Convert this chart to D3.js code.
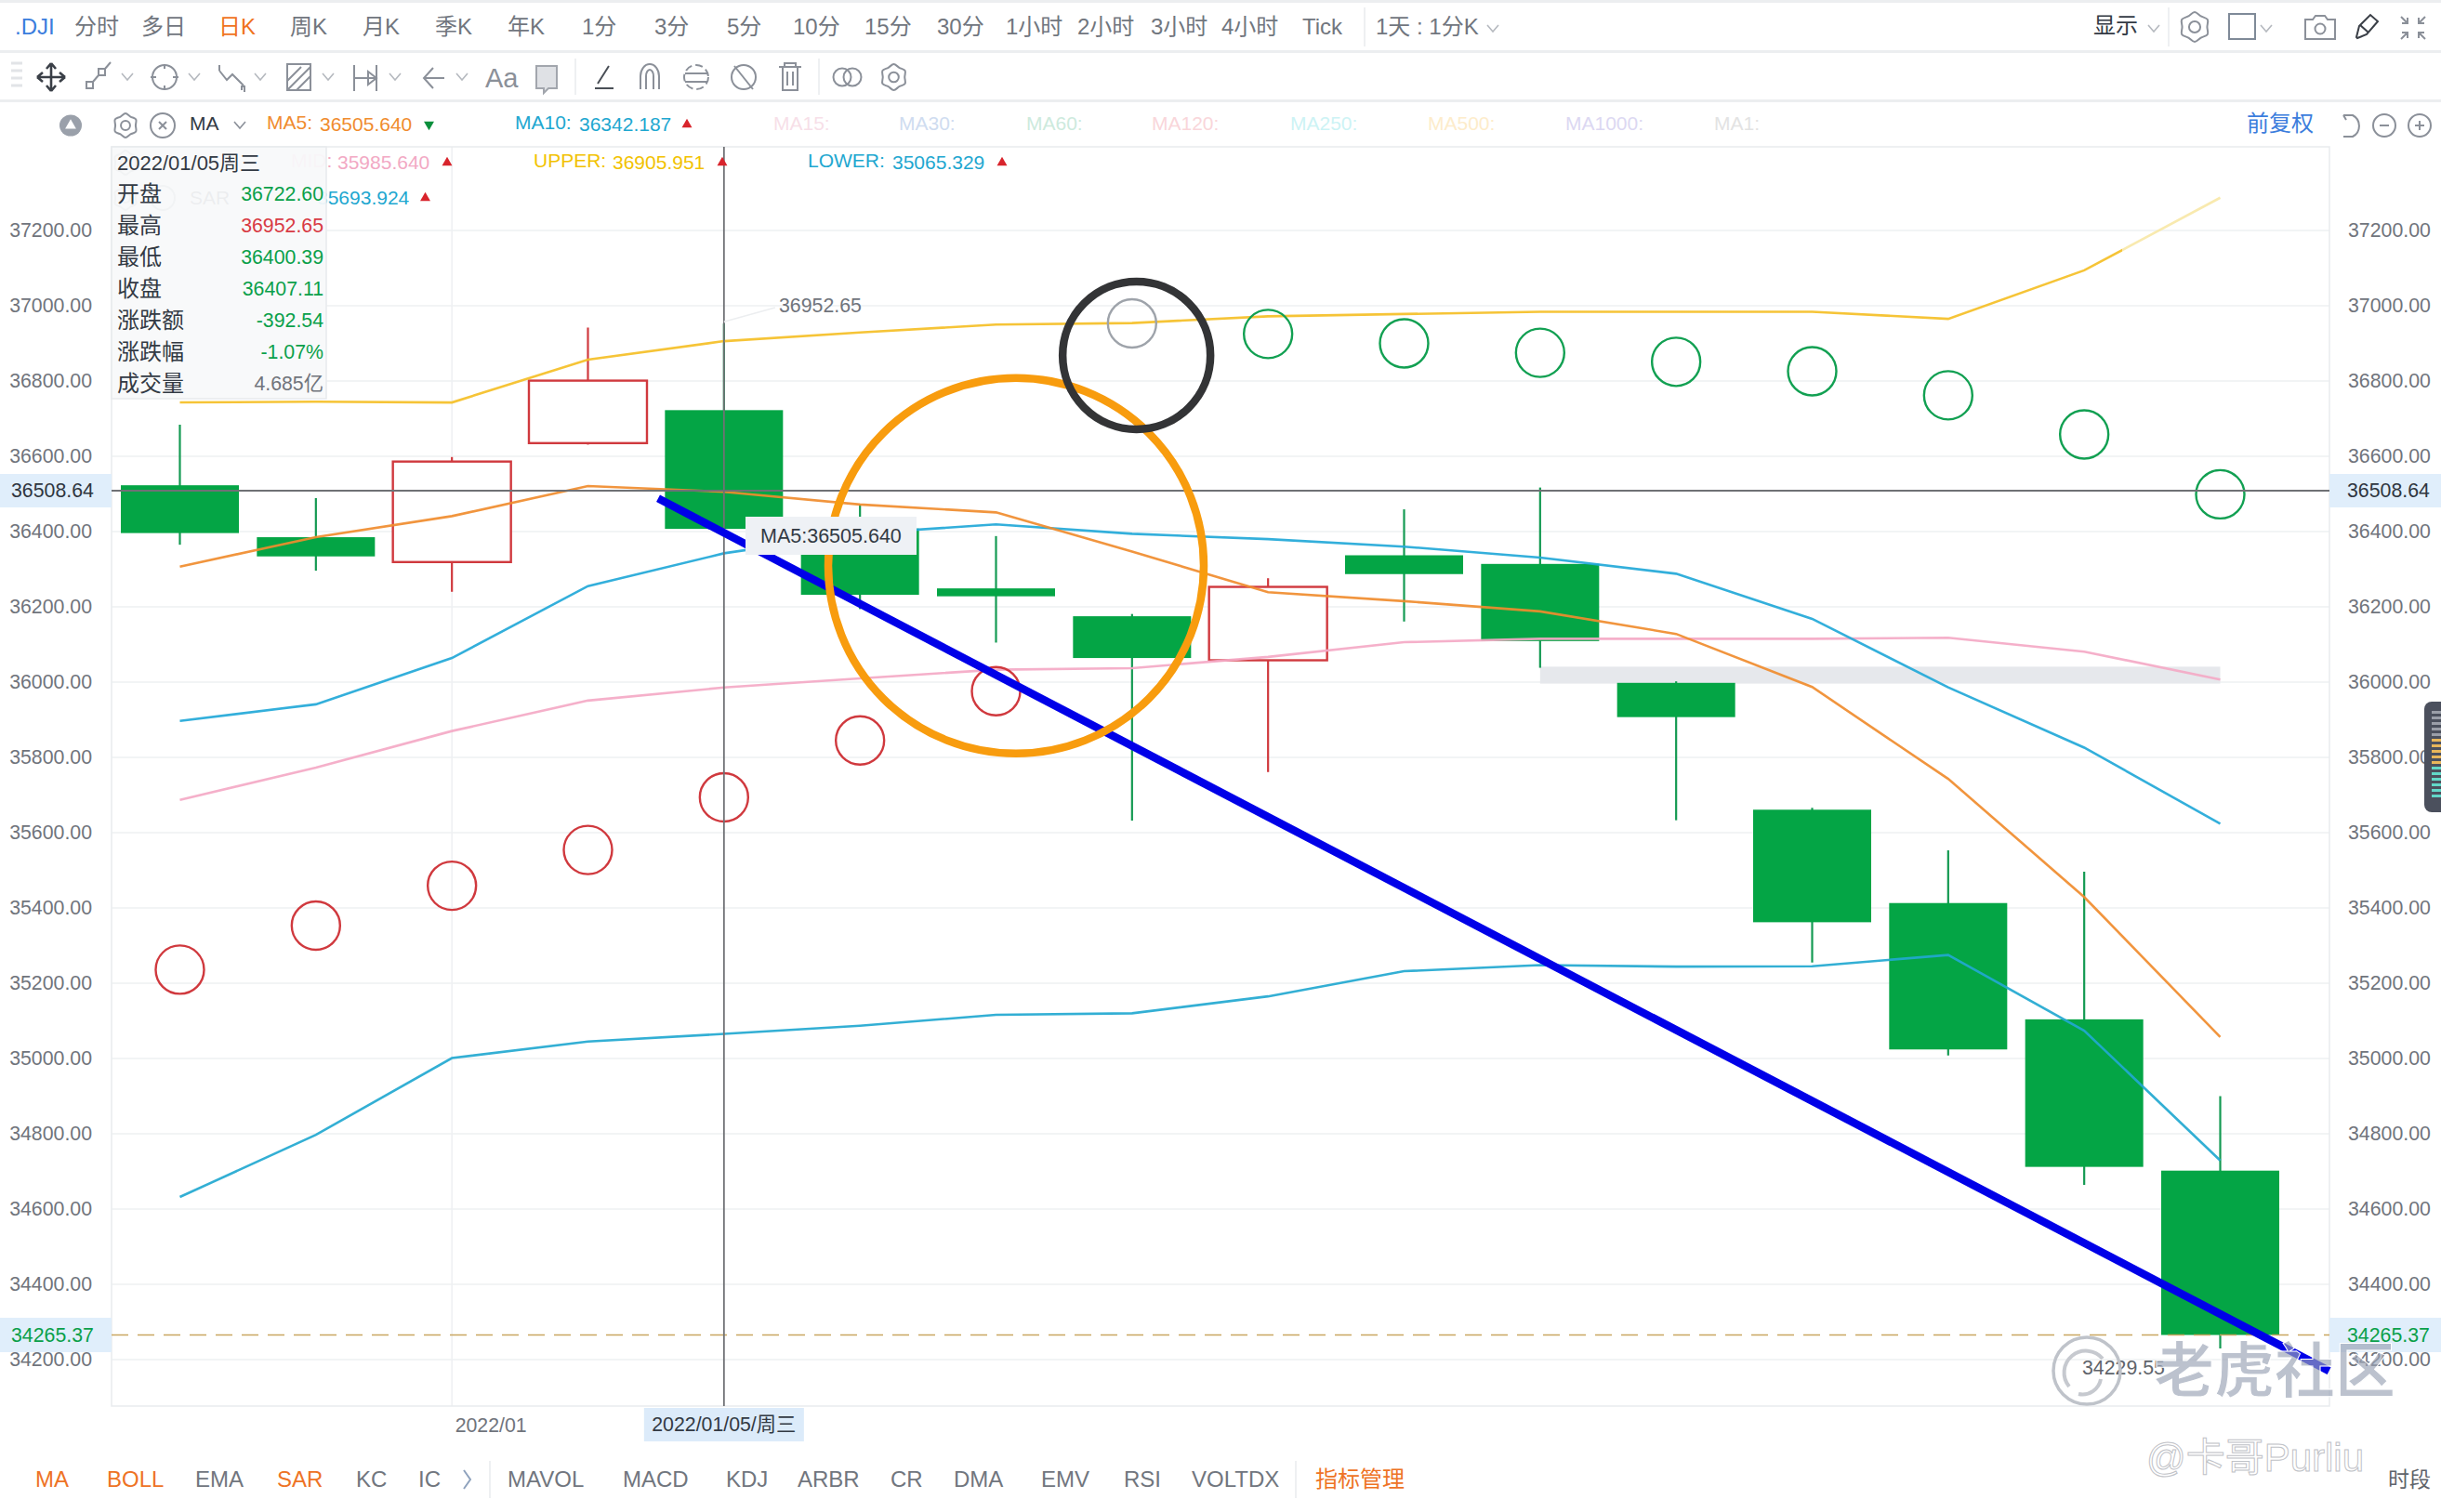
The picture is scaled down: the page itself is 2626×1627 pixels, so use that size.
<!DOCTYPE html>
<html lang="zh">

<head>
    <meta charset="UTF-8">
    <title>.DJI 日K</title>
    <script src="https://d3js.org/d3.v7.min.js"></script>
    <style>
        html, body { margin: 0; padding: 0; background: #fff; }
        svg { display: block; }
        text { font-family: "Liberation Sans", "Noto Sans CJK SC", sans-serif; }
    </style>
</head>

<body>
    <div id="chart"></div>

    <script>
        // candles
        const dates = ["2021/12/30", "2021/12/31", "2022/01/03", "2022/01/04", "2022/01/05", "2022/01/06", "2022/01/07", "2022/01/10",
            "2022/01/11", "2022/01/12", "2022/01/13", "2022/01/14", "2022/01/18", "2022/01/19", "2022/01/20", "2022/01/21"];
        const opens = [36523, 36385, 36319, 36635, 36722.60, 36408, 36249, 36175, 36058, 36337, 36314, 35998, 35661, 35413, 35104, 34702];
        const highs = [36684, 36489, 36598, 36942, 36952.65, 36472, 36388, 36181, 36276, 36459, 36517, 36002, 35666, 35553, 35496, 34900];
        const lows = [36365, 36296, 36240, 36631, 36400.39, 36194, 36105, 35632, 35761, 36161, 36038, 35633, 35255, 35008, 34664, 34229.55];
        const closes = [36396, 36334, 36586, 36801, 36407.11, 36232, 36228, 36064, 36253, 36287, 36109, 35907, 35362, 35024, 34712, 34265.37];

        // indicator lines
        const ma5 = [36307, 36385, 36441, 36521, 36505.64, 36472, 36451, 36347, 36239, 36215, 36188, 36128, 35987, 35743, 35429, 35057];
        const ma10 = [35897, 35941, 36064, 36255, 36342.19, 36395, 36419, 36394, 36380, 36360, 36331, 36288, 36168, 35986, 35826, 35624];
        const bollMid = [35687, 35773, 35870, 35951, 35985.64, 36010, 36033, 36037, 36067, 36106, 36115, 36115, 36115, 36118, 36081, 36007];
        const bollUpper = [36743, 36745, 36743, 36857, 36905.95, 36929, 36950, 36954, 36972, 36978, 36984, 36984, 36984, 36965, 37094, 37287];
        const bollLower = [34632, 34797, 35001, 35045, 35065.33, 35087, 35116, 35120, 35165, 35232, 35248, 35244, 35245, 35275, 35074, 34729];
        const sar = [35236, 35353, 35459, 35554, 35693.92, 35845, 35976, 36953, 36925, 36900, 36875, 36851, 36826, 36762, 36658, 36499];
        const sarState = ["up", "up", "up", "up", "up", "up", "up", "flip", "down", "down", "down", "down", "down", "down", "down", "down"];

        const priceTicks = d3.range(34200, 37201, 200);
        const lastPrice = 34265.37;
        const crossPrice = 36508.64;
        const crossIndex = 4;

        // hand drawn things on the picture, in candle index / price
        const blueLine = [[3.516, 36488], [15.80, 34170]];
        const orangeCircle = [6.147, 36309];
        const blackCircle = [7.033, 36868];
        const greyBand = { from: 10, to: 15, low: 35996, high: 36041 };

        const periodTabs = [".DJI", "分时", "多日", "日K", "周K", "月K", "季K", "年K", "1分", "3分", "5分", "10分", "15分", "30分", "1小时", "2小时", "3小时", "4小时", "Tick"];
        const periodX = [16, 80, 152, 235, 312, 390, 468, 546, 626, 704, 782, 853, 930, 1008, 1082, 1159, 1238, 1314, 1401];
        const indicatorTabs = ["MA", "BOLL", "EMA", "SAR", "KC", "IC", "MAVOL", "MACD", "KDJ", "ARBR", "CR", "DMA", "EMV", "RSI", "VOLTDX", "指标管理"];
        const indicatorX = [38, 115, 210, 298, 383, 450, 546, 670, 781, 858, 958, 1026, 1120, 1209, 1282, 1415];
        const activeTabs = ["MA", "BOLL", "SAR", "指标管理"];
        const offLegend = ["MA15:", "MA30:", "MA60:", "MA120:", "MA250:", "MA500:", "MA1000:", "MA1:"];
        const offLegendX = [832, 967, 1104, 1239, 1388, 1536, 1684, 1844];
        const offLegendColor = ["#f7dfe8", "#cfdcf0", "#cdeadd", "#f9d6da", "#cdf3f5", "#fdeccb", "#dcd8f2", "#e3e3e3"];
        const infoLabels = ["开盘", "最高", "最低", "收盘", "涨跌额", "涨跌幅", "成交量"];
        const infoValues = ["36722.60", "36952.65", "36400.39", "36407.11", "-392.54", "-1.07%", "4.685亿"];
        const infoColors = ["#0aa04a", "#d83a44", "#0aa04a", "#0aa04a", "#0aa04a", "#0aa04a", "#70747c"];

        const width = 2626, height = 1627;
        const plot = { left: 120, right: 2506, top: 158, bottom: 1513 };
        const green = "#04a545", greenWick = "#149a52", red = "#d0393e";
        const grey = "#70747c", iconGrey = "#8b9099", gridColor = "#eef0f2";

        const svg = d3.select("#chart").append("svg").attr("width", width).attr("height", height);

        const x = d3.scaleLinear().domain([0, 15]).range([193.5, 2388.5]);
        const y = d3.scaleLinear().domain([34076.5, 37422.2]).range([plot.bottom, plot.top]);

        function label(g, px, py, str, color, size, anchor) {
            return g.append("text").attr("x", px).attr("y", py).attr("dy", "0.35em")
                .attr("fill", color).attr("font-size", size || 21.3).attr("text-anchor", anchor || "start").text(str);
        }

        // ---- grid
        const grid = svg.append("g");
        grid.selectAll("line").data(priceTicks).join("line")
            .attr("x1", plot.left).attr("x2", plot.right)
            .attr("y1", d => y(d)).attr("y2", d => y(d))
            .attr("stroke", gridColor).attr("stroke-width", 1.5);
        grid.append("line").attr("x1", x(2)).attr("x2", x(2)).attr("y1", plot.top).attr("y2", plot.bottom).attr("stroke", gridColor).attr("stroke-width", 1.5);
        grid.append("rect").attr("x", plot.left).attr("y", plot.top).attr("width", plot.right - plot.left).attr("height", plot.bottom - plot.top)
            .attr("fill", "none").attr("stroke", "#e9ebee").attr("stroke-width", 1.5);

        // ---- price tags go under the axis text, the reference has 34200.00 on top of the tag
        const tagFill = "#e0eefb";
        [[0, 12], [plot.right, plot.right + 19]].forEach(([tx, lx]) => {
            svg.append("rect").attr("x", tx).attr("y", y(crossPrice) - 18).attr("width", 120).attr("height", 36).attr("fill", tagFill);
            label(svg, lx, y(crossPrice), "36508.64", "#2f3640");
            svg.append("rect").attr("x", tx).attr("y", y(lastPrice) - 18.5).attr("width", 120).attr("height", 37).attr("fill", tagFill);
            label(svg, lx, y(lastPrice), "34265.37", "#0aa04a");
        });

        // ---- axes
        const fmt = d3.format(".2f");
        const leftAxis = svg.append("g").attr("transform", `translate(${plot.left},0)`)
            .call(d3.axisLeft(y).tickValues(priceTicks).tickFormat(fmt).tickSize(0).tickPadding(21));
        const rightAxis = svg.append("g").attr("transform", `translate(${plot.right},0)`)
            .call(d3.axisRight(y).tickValues(priceTicks).tickFormat(fmt).tickSize(0).tickPadding(20));
        const bottomAxis = svg.append("g").attr("transform", `translate(0,${plot.bottom})`)
            .call(d3.axisBottom(x).tickValues([2]).tickFormat(() => "2022/01").tickSize(0).tickPadding(13));
        bottomAxis.selectAll("text").attr("text-anchor", "start").attr("dx", 3);
        [leftAxis, rightAxis, bottomAxis].forEach(a => {
            a.select(".domain").remove();
            a.selectAll("text").attr("fill", grey).attr("font-size", 21.3)
                .attr("font-family", '"Liberation Sans", "Noto Sans CJK SC", sans-serif');
        });

        // grey band
        svg.append("rect").attr("x", x(greyBand.from)).attr("width", x(greyBand.to) - x(greyBand.from))
            .attr("y", y(greyBand.high)).attr("height", y(greyBand.low) - y(greyBand.high)).attr("fill", "#e6e8ec");

        // ---- candles
        const bodyW = 127;
        const isUp = i => closes[i] > opens[i];
        const candles = svg.append("g").selectAll("g").data(dates).join("g");
        candles.append("line")
            .attr("x1", (d, i) => x(i)).attr("x2", (d, i) => x(i))
            .attr("y1", (d, i) => y(highs[i])).attr("y2", (d, i) => y(lows[i]))
            .attr("stroke", (d, i) => isUp(i) ? red : greenWick).attr("stroke-width", 2.2);
        // red candles are hollow, the wick stops at the box
        candles.append("rect")
            .attr("x", (d, i) => x(i) - bodyW / 2)
            .attr("width", bodyW)
            .attr("y", (d, i) => y(Math.max(opens[i], closes[i])))
            .attr("height", (d, i) => Math.abs(y(opens[i]) - y(closes[i])))
            .attr("fill", (d, i) => isUp(i) ? "#fff" : green)
            .attr("stroke", (d, i) => isUp(i) ? red : "none")
            .attr("stroke-width", 2.4);

        svg.append("line").attr("x1", plot.left).attr("x2", plot.right).attr("y1", y(lastPrice)).attr("y2", y(lastPrice))
            .attr("stroke", "#c9a660").attr("stroke-width", 1.7).attr("stroke-dasharray", "18 10");

        // ---- lines
        const defs = svg.append("defs");
        const fade = defs.append("linearGradient").attr("id", "upperFade").attr("gradientUnits", "userSpaceOnUse")
            .attr("x1", 0).attr("x2", width).attr("y1", 0).attr("y2", 0);
        fade.append("stop").attr("offset", 2283 / width).attr("stop-color", "#f5bf26");
        fade.append("stop").attr("offset", 2283 / width).attr("stop-color", "#f8e8a8");

        const line = d3.line().x((d, i) => x(i)).y(d => y(d));
        [[bollMid, "#f4a9c5"], [bollLower, "#22a8d0"], [ma10, "#22a8d8"], [ma5, "#f08c2e"], [bollUpper, "url(#upperFade)"]].forEach(([vals, col]) => {
            svg.append("path").attr("d", line(vals)).attr("fill", "none").attr("stroke", col)
                .attr("stroke-width", 2.6).attr("stroke-opacity", 0.92);
        });

        // sar circles
        const sarColor = { up: red, down: "#12a052", flip: "#9ea3aa" };
        svg.append("g").selectAll("circle").data(sar).join("circle")
            .attr("cx", (d, i) => x(i)).attr("cy", d => y(d)).attr("r", 26)
            .attr("fill", "none").attr("stroke", (d, i) => sarColor[sarState[i]]).attr("stroke-width", 2.4);

        // crosshair
        svg.append("line").attr("x1", plot.left).attr("x2", plot.right).attr("y1", y(crossPrice)).attr("y2", y(crossPrice))
            .attr("stroke", "#6f7175").attr("stroke-width", 1.8);
        svg.append("line").attr("x1", x(crossIndex)).attr("x2", x(crossIndex)).attr("y1", plot.top).attr("y2", plot.bottom)
            .attr("stroke", "#6f7175").attr("stroke-width", 1.8);

        // ---- high / low labels
        svg.append("line").attr("x1", x(crossIndex)).attr("y1", y(highs[crossIndex]) - 2).attr("x2", x(crossIndex) + 55).attr("y2", y(37000) + 2)
            .attr("stroke", "#eceef0").attr("stroke-width", 1.5);
        label(svg, 838, y(37000), "36952.65", grey);

        // ---- annotations
        svg.append("line")
            .attr("x1", x(blueLine[0][0])).attr("y1", y(blueLine[0][1]))
            .attr("x2", x(blueLine[1][0])).attr("y2", y(blueLine[1][1]))
            .attr("stroke", "#0000e8").attr("stroke-width", 8.5);
        svg.append("circle").attr("cx", x(orangeCircle[0])).attr("cy", y(orangeCircle[1])).attr("r", 202)
            .attr("fill", "none").attr("stroke", "#f89c0e").attr("stroke-width", 8.5);
        svg.append("circle").attr("cx", x(blackCircle[0])).attr("cy", y(blackCircle[1])).attr("r", 79.5)
            .attr("fill", "none").attr("stroke", "#333436").attr("stroke-width", 8.5);

        label(svg, 2240, 1472, "34229.55", "#5f646b");

        // MA5 tooltip
        svg.append("rect").attr("x", 802).attr("y", 556).attr("width", 184).attr("height", 41).attr("fill", "#eef1f5");
        label(svg, 818, 576, "MA5:36505.640", "#333a44", 21.5);

        // date tag
        svg.append("rect").attr("x", x(crossIndex) - 86).attr("y", 1515).attr("width", 172).attr("height", 36).attr("fill", "#dcebfa");
        label(svg, x(crossIndex), 1533, dates[crossIndex] + "/周三", "#333a44", 21.3, "middle");

        // ---- header rows
        const chrome = svg.append("g");
        [[0, 3], [54, 3], [107, 3]].forEach(([py, h]) => chrome.append("rect").attr("x", 0).attr("y", py).attr("width", width).attr("height", h).attr("fill", "#eceef0"));
        [[1468, 8, 50], [2333, 8, 50], [619, 63, 102], [881, 63, 102], [527, 1572, 1612], [1394, 1572, 1612]].forEach(([sx, a, b]) =>
            chrome.append("line").attr("x1", sx).attr("x2", sx).attr("y1", a).attr("y2", b).attr("stroke", "#e9ebee").attr("stroke-width", 1.5));

        periodTabs.forEach((t, i) => {
            const c = t === ".DJI" ? "#3b7ddd" : t === "日K" ? "#f0731e" : "#71767e";
            label(chrome, periodX[i], 29, t, c, 24);
        });
        label(chrome, 1480, 29, "1天 : 1分K", "#71767e", 24);
        label(chrome, 2252, 28, "显示", "#333a44", 24);

        indicatorTabs.forEach((t, i) => {
            label(chrome, indicatorX[i], 1592, t, activeTabs.includes(t) ? "#ee7325" : "#71767e", 24);
        });
        label(chrome, 2569, 1592, "时段", "#5f646b", 23);

        // ---- icons
        function chevron(cx, cy, col) {
            chrome.append("path").attr("d", `M${cx - 6},${cy - 3}L${cx},${cy + 4}L${cx + 6},${cy - 3}`)
                .attr("fill", "none").attr("stroke", col || "#b5b9bf").attr("stroke-width", 1.6);
        }
        function gear(cx, cy, r, col) {
            const pts = d3.range(12).map(i => {
                const a = i * Math.PI / 6, rr = i % 2 ? r * 0.84 : r;
                return [cx + rr * Math.sin(a), cy - rr * Math.cos(a)];
            });
            chrome.append("path").attr("d", d3.line().curve(d3.curveCardinalClosed)(pts)).attr("fill", "none").attr("stroke", col || iconGrey).attr("stroke-width", 2);
            chrome.append("circle").attr("cx", cx).attr("cy", cy).attr("r", r * 0.38).attr("fill", "none").attr("stroke", col || iconGrey).attr("stroke-width", 2);
        }
        function ring(cx, cy, r, col) {
            return chrome.append("circle").attr("cx", cx).attr("cy", cy).attr("r", r).attr("fill", "none").attr("stroke", col || iconGrey).attr("stroke-width", 2);
        }
        function stroke(d, col, w) {
            return chrome.append("path").attr("d", d).attr("fill", "none").attr("stroke", col || iconGrey).attr("stroke-width", w || 2);
        }
        function tri(cx, cy, col, down) {
            chrome.append("path").attr("d", d3.symbol(d3.symbolTriangle, 52)()).attr("fill", col)
                .attr("transform", `translate(${cx},${cy})` + (down ? " rotate(180)" : ""));
        }

        [137, 209, 280, 353, 425, 497].forEach(cx => chevron(cx, 82));
        chevron(1606, 30); chevron(2317, 30); chevron(2438, 30); chevron(258, 134, "#8b9099");
        stroke("M499,1582l7,10l-7,10", "#8fa2bd", 2);

        // row 2 tools
        stroke("M12,68h12M12,76h12M12,84h12M12,92h12", "#e2e4e7", 3);
        stroke("M55,68V98M40,83H70M55,68l-5,6M55,68l5,6M55,98l-5,-6M55,98l5,-6M40,83l6,-5M40,83l6,5M70,83l-6,-5M70,83l-6,5", "#3a3f47", 2.6);
        stroke("M93,95h7v-7h-7zM106,81h7v-7h-7zM100,88L106,81M113,74l6,-7");
        ring(177, 83, 13); stroke("M162,83h6M186,83h6M177,69v5M177,92v5");
        stroke("M236,70v6M236,76l8,10l6,-6l12,12M260,97v-4h3v6");
        stroke("M309,69h25v28h-25zM309,97L334,72M309,87L324,72M319,97L334,82");
        stroke("M381,70V98M405,70V98M381,84H405M405,84l-9,-7v14z");
        stroke("M478,84H456M466,73L456,84L466,95");
        label(chrome, 522, 84, "Aa", iconGrey, 29);
        chrome.append("path").attr("d", "M577,71h22v24h-9l-5,5v-5h-8z").attr("fill", "#dfe1e5").attr("stroke", "#a2a6ad").attr("stroke-width", 2);
        stroke("M640,95h20M643,90L655,71", "#4a4f57");
        stroke("M689,96V82a10,13 0 0 1 20,0V96M695,96V82a4,7 0 0 1 8,0V96");
        ring(749, 83, 13).attr("stroke-dasharray", "8 4"); stroke("M737,79h24M737,88h24");
        ring(800, 83, 13); stroke("M790,71L810,96");
        stroke("M838,72h24M844,72v-4h12v4M842,72v25h16V72M847,77v15M853,77v15");
        ring(906, 83, 9.5); ring(917, 83, 9.5);
        gear(961.5, 83, 14);

        // right of the top row
        gear(2361, 29, 16);
        chrome.append("rect").attr("x", 2398).attr("y", 15).attr("width", 28).attr("height", 27).attr("fill", "none").attr("stroke", "#7f8a98").attr("stroke-width", 2);
        stroke("M2480,21h8l3,-4h10l3,4h8v21h-32z"); ring(2496, 31, 5.5);
        stroke("M2535,40l3,-12l12,-12l8,7l-12,14l-10,4zM2539,27l9,8", "#3a3f47");
        stroke("M2583,18l7,7M2590,19v6h-6M2609,18l-7,7M2602,19v6h6M2583,42l7,-7M2590,41v-6h-6M2609,42l-7,-7M2602,41v-6h6");

        // row 3 controls
        chrome.append("ellipse").attr("cx", 76).attr("cy", 135).attr("rx", 12).attr("ry", 11.5).attr("fill", "#9aa0aa");
        chrome.append("path").attr("d", d3.symbol(d3.symbolTriangle, 60)()).attr("transform", "translate(76,135)").attr("fill", "#fff");
        gear(135, 135, 13);
        ring(175, 135, 13); stroke("M171,131l8,8M179,131l-8,8");
        label(chrome, 204, 133, "MA", "#333a44", 21);
        stroke("M2521,124h10a13,13 0 0 1 0,23h-10M2521,124l3,5");
        ring(2565, 135, 12); stroke("M2560,135h10");
        ring(2603, 135, 12); stroke("M2598,135h10M2603,130v10");

        // ---- legend rows
        label(chrome, 287, 132, "MA5:", "#f08c2e", 21);
        label(chrome, 344, 134, "36505.640", "#f08c2e", 21);
        tri(461.5, 134, "#0a8f3c", true);
        label(chrome, 554, 132, "MA10:", "#1ea7d0", 21);
        label(chrome, 623, 134, "36342.187", "#1ea7d0", 21);
        tri(739, 134, "#d8242c");
        offLegend.forEach((t, i) => label(chrome, offLegendX[i], 133, t, offLegendColor[i], 21));

        label(chrome, 2417, 133, "前复权", "#3b7ddd", 24);

        gear(135, 175, 13);
        label(chrome, 313, 173, "MID:", "#f2a9c4", 21);
        label(chrome, 363, 175, "35985.640", "#f2a9c4", 21); tri(481, 175, "#d8242c");
        label(chrome, 574, 173, "UPPER:", "#f2c200", 21);
        label(chrome, 659, 175, "36905.951", "#f2c200", 21); tri(777, 175, "#d8242c");
        label(chrome, 869, 173, "LOWER:", "#1ea7d0", 21);
        label(chrome, 960, 175, "35065.329", "#1ea7d0", 21); tri(1078, 175, "#d8242c");

        gear(135, 213, 13); ring(175, 213, 13); label(chrome, 204, 213, "SAR", "#333a44", 21);
        label(chrome, 341, 213, "35693.924", "#1ea7d0", 21); tri(457.5, 213, "#d8242c");

        // ---- info panel
        chrome.append("rect").attr("x", 120).attr("y", 158).attr("width", 231).attr("height", 271)
            .attr("fill", "#f8f9fa").attr("fill-opacity", 0.94).attr("stroke", "#e8eaed").attr("stroke-width", 1.5);
        label(chrome, 126, 175.5, "2022/01/05周三", "#333a44", 22);
        const rowsY = [209, 243, 277, 311, 345, 379, 413];
        infoLabels.forEach((t, i) => {
            label(chrome, 126, rowsY[i], t, "#333a44", 24);
            label(chrome, 348, rowsY[i], infoValues[i], infoColors[i], 21.3, "end");
        });

        // ---- side widget at the window edge
        chrome.append("rect").attr("x", 2608).attr("y", 755).attr("width", 30).attr("height", 119).attr("rx", 8).attr("fill", "#4b505d");
        d3.range(0, 16).forEach(i => {
            const c = i < 5 ? "#9a9ea8" : i < 10 ? "#e8b65a" : "#62d8c8";
            chrome.append("rect").attr("x", 2616).attr("y", 765 + i * 6).attr("width", 10).attr("height", 3).attr("fill", c);
        });

        // ---- watermarks
        const mark = svg.append("g");
        mark.append("circle").attr("cx", 2245).attr("cy", 1475).attr("r", 36).attr("fill", "none").attr("stroke", "#bfc3ca").attr("stroke-width", 3.5);
        mark.append("path").attr("d", "M2226,1492a22,22 0 0 1 36,-30M2236,1500a20,20 0 0 0 24,-16")
            .attr("fill", "none").attr("stroke", "#c6c9cf").attr("stroke-width", 4);
        label(mark, 2317, 1475, "老虎社区", "#9aa2b4", 65).attr("font-weight", "bold").attr("fill-opacity", 0.66).attr("stroke", "#fff").attr("stroke-width", 1);
        label(mark, 2309, 1568, "@卡哥Purliu", "#fff", 42).attr("stroke", "#bfc2c7").attr("stroke-width", 1);

    </script>
</body>

</html>
